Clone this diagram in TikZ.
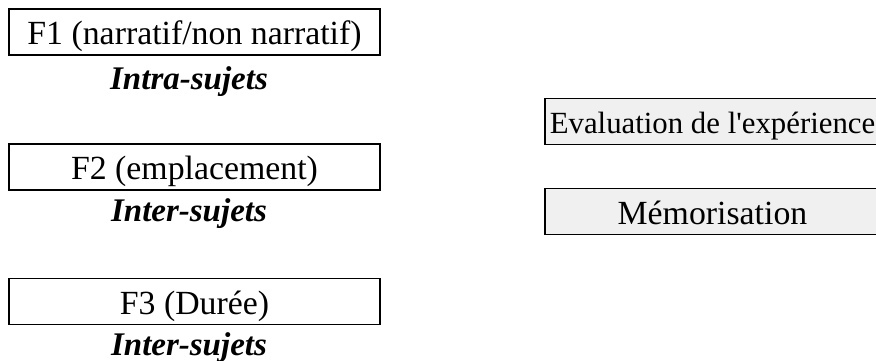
\documentclass[tikz,border=0pt]{standalone}
\usepackage{fontspec}
\setmainfont{Liberation Serif}
\begin{document}
\begin{tikzpicture}[x=1pt,y=1pt,
  box/.style={draw=black,line width=1.7pt,rectangle,inner sep=0pt,
    minimum height=46pt,text height=25pt,text depth=0pt,
    font=\fontsize{33.8}{38}\selectfont},
  lbox/.style={box,fill=white,minimum width=371pt},
  rbox/.style={box,fill=black!6,minimum width=335pt},
  lbl/.style={anchor=base,inner sep=0pt,font=\fontsize{33}{38}\selectfont\bfseries\itshape}]
\useasboundingbox (0,0) rectangle (876,-361);
\node[lbox] (f1) at (194.5,-32) {F1 (narratif/non narratif)};
\node[lbl] (l1) at (189,-90) {Intra-sujets};
\node[lbox] (f2) at (194.5,-167) {F2 (emplacement)};
\node[lbl] (l2) at (189,-221) {Inter-sujets};
\node[lbox] (f3) at (194.5,-301.5) {F3 (Durée)};
\node[lbl] (l3) at (189,-355) {Inter-sujets};
\node[rbox,font=\fontsize{30.8}{36}\selectfont,text height=23pt] (ev) at (712.5,-121.5) {Evaluation de l\textquotesingle expérience};
\node[rbox] (me) at (712.5,-211.5) {Mémorisation};
\end{tikzpicture}
\end{document}
